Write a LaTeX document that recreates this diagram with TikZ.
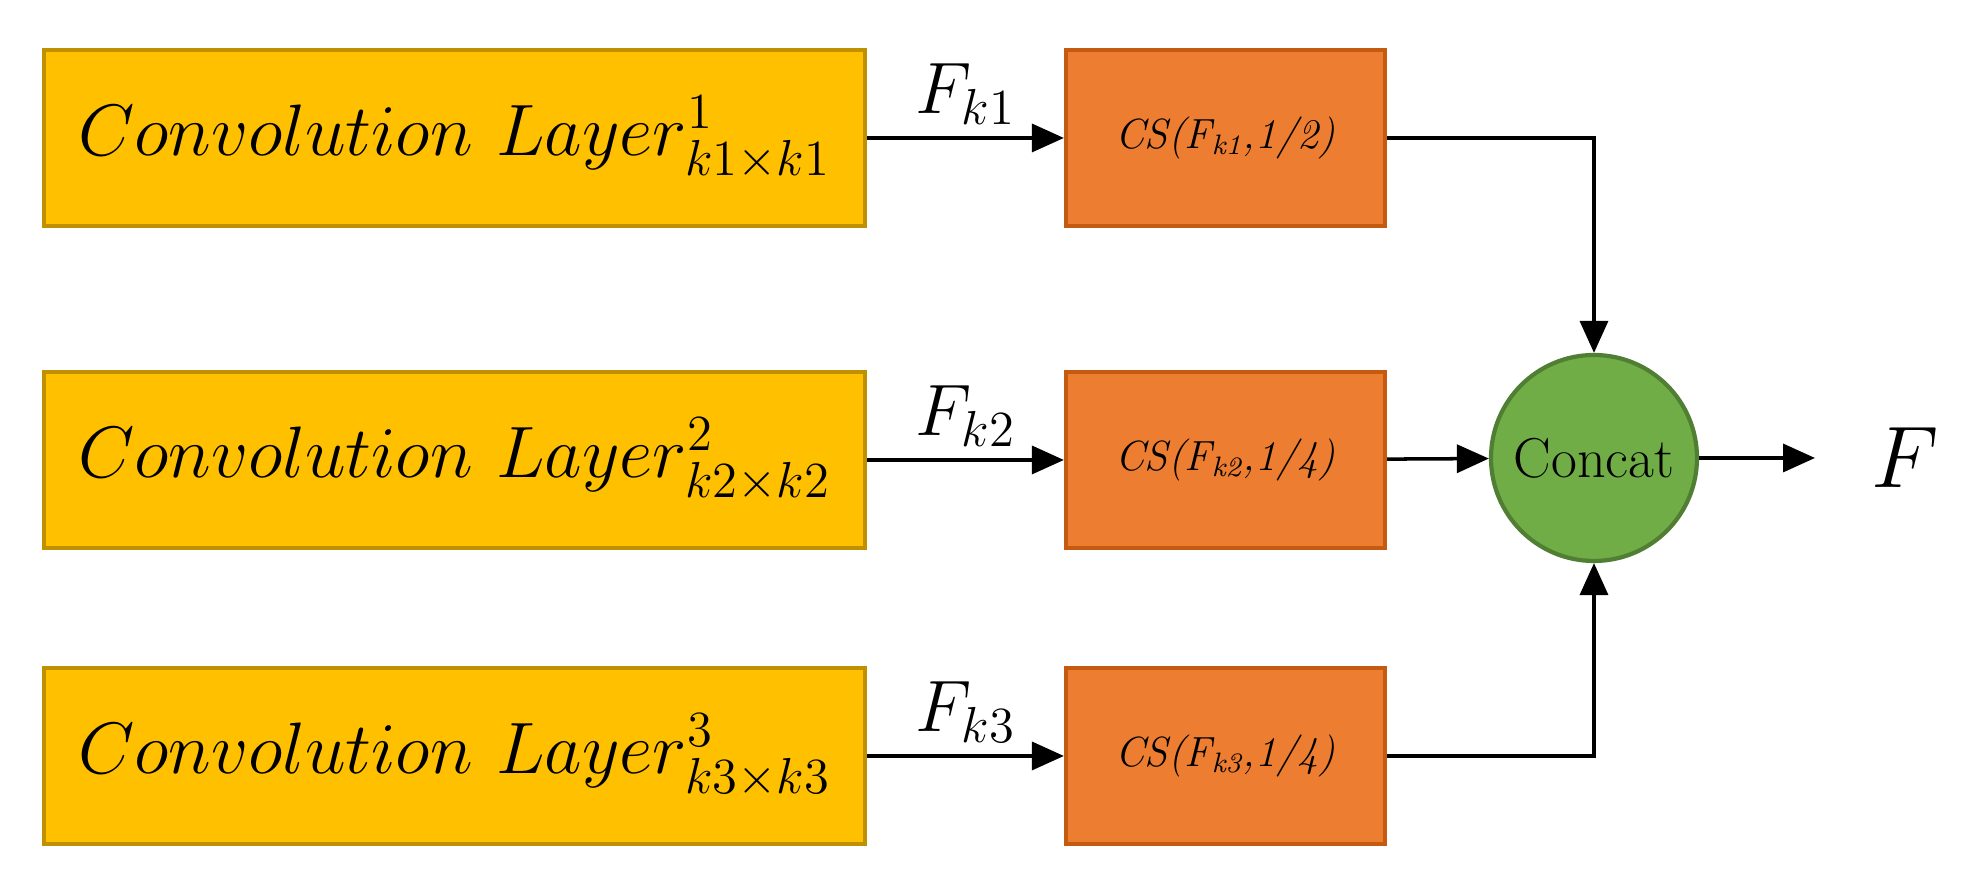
\documentclass[tikz,border=0pt]{standalone}
\usepackage{amsmath}
\usepackage{tikz}
\usetikzlibrary{arrows.meta}
\definecolor{convfill}{HTML}{FFC000}
\definecolor{convdraw}{HTML}{BF9000}
\definecolor{csfill}{HTML}{ED7D31}
\definecolor{csdraw}{HTML}{C55A11}
\definecolor{catfill}{HTML}{70AD47}
\definecolor{catdraw}{HTML}{507E32}
\tikzset{
  conv/.style={draw=convdraw, line width=1.2pt, fill=convfill, minimum width=8.21cm, minimum height=1.76cm, inner sep=0pt, font=\fontsize{22}{26}\selectfont},
  cs/.style={draw=csdraw, line width=1.2pt, fill=csfill, minimum width=3.19cm, minimum height=1.76cm, inner sep=0pt, font=\fontsize{12}{14}\selectfont\itshape},
  flow/.style={-{Triangle[length=0.32cm, width=0.28cm]}, line width=1pt},
  flab/.style={above, font=\fontsize{22}{26}\selectfont}
}
\begin{document}
\begin{tikzpicture}
\useasboundingbox (0,0) rectangle (19.79,8.73);
% convolution layers
\node[conv] (c1) at (4.545,7.35) {$Convolution\ Layer^{1}_{k1\times k1}$};
\node[conv] (c2) at (4.545,4.13) {$Convolution\ Layer^{2}_{k2\times k2}$};
\node[conv] (c3) at (4.545,1.17) {$Convolution\ Layer^{3}_{k3\times k3}$};

% channel shuffle blocks
\node[cs] (s1) at (12.255,7.35) {CS(F\textsubscript{k1},1/2)};
\node[cs] (s2) at (12.255,4.13) {CS(F\textsubscript{k2},1/4)};
\node[cs] (s3) at (12.255,1.17) {CS(F\textsubscript{k3},1/4)};

% concat
\node[circle, draw=catdraw, line width=1.2pt, fill=catfill, minimum size=2.06cm, font=\fontsize{16}{18}\selectfont] (cat) at (15.94,4.15) {Concat};
\node[font=\fontsize{36}{40}\selectfont] (out) at (19.05,4.15) {$F$};

% arrows
\draw[flow] (c1) -- node[flab] {$F_{k1}$} (s1);
\draw[flow] (c2) -- node[flab] {$F_{k2}$} (s2);
\draw[flow] (c3) -- node[flab] {$F_{k3}$} (s3);
\draw[flow] (s1.east) -| (cat.north);
\draw[flow] (s2) -- (cat);
\draw[flow] (s3.east) -| (cat.south);
\draw[flow] (cat.east) -- ([xshift=-0.9cm]out.center);
\end{tikzpicture}
\end{document}
